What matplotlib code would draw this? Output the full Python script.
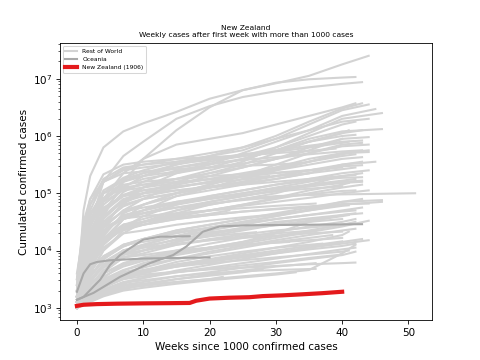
import matplotlib

matplotlib.use("Agg")
import matplotlib.pyplot as plt
import numpy as np

# knot weeks shared by all series; the last value of each series sits at its end week
knot_weeks = [0, 1, 2, 4, 7, 10, 15, 20, 25, 30, 35, 40]

# log10 of cumulated cases, rest of world
rest_log = [
    [3.1, 4.7, 5.3, 5.8, 6.08, 6.22, 6.42, 6.65, 6.8, 6.92, 7.05, 7.25, 7.40],
    [3.05, 3.5, 3.95, 4.6, 5.2, 5.6, 6.1, 6.5, 6.8, 6.93, 6.99, 7.02, 7.03],
    [3.1, 3.8, 4.45, 5.2, 5.65, 5.9, 6.3, 6.52, 6.68, 6.78, 6.85, 6.91, 6.94],
    [3.0, 3.6, 4.2, 4.9, 5.35, 5.6, 5.85, 5.95, 6.05, 6.2, 6.35, 6.5, 6.57],
    [3.1, 3.5, 3.8, 4.15, 4.37, 4.5, 4.65, 4.8, 4.9, 4.95, 4.97, 4.98, 5.0],
    [3.1, 3.6, 4.1, 4.7, 5.1, 5.3, 5.5, 5.65, 5.8, 6.0, 6.25, 6.48, 6.57],
    [3.2, 3.9, 4.45, 5.0, 5.27, 5.4, 5.55, 5.65, 5.75, 5.95, 6.2, 6.45, 6.55],
    [3.0, 3.4, 3.85, 4.4, 4.85, 5.1, 5.35, 5.5, 5.7, 5.9, 6.1, 6.35, 6.47],
    [3.1, 3.7, 4.2, 4.7, 4.97, 5.1, 5.25, 5.4, 5.55, 5.8, 6.05, 6.3, 6.40],
    [3.3, 4.0, 4.45, 4.88, 5.12, 5.25, 5.35, 5.45, 5.6, 5.75, 5.95, 6.08, 6.12],
    [3.0, 3.5, 3.9, 4.4, 4.7, 4.9, 5.15, 5.3, 5.45, 5.6, 5.75, 5.95, 5.98],
    [3.2, 3.8, 4.3, 4.85, 5.2, 5.35, 5.5, 5.6, 5.68, 5.75, 5.83, 5.9, 5.92],
    [3.1, 3.5, 4.0, 4.55, 4.87, 5.0, 5.1, 5.2, 5.3, 5.45, 5.6, 5.7, 5.72],
    [3.4, 4.1, 4.6, 5.05, 5.25, 5.35, 5.45, 5.52, 5.58, 5.63, 5.68, 5.73, 5.75],
    [3.0, 3.3, 3.65, 4.15, 4.55, 4.8, 5.0, 5.15, 5.3, 5.4, 5.5, 5.6, 5.63],
    [3.2, 3.6, 4.05, 4.5, 4.77, 4.9, 5.0, 5.1, 5.2, 5.3, 5.4, 5.47, 5.49],
    [3.1, 3.4, 3.7, 4.1, 4.4, 4.6, 4.8, 4.95, 5.05, 5.15, 5.22, 5.27, 5.28],
    [3.0, 3.3, 3.6, 4.0, 4.3, 4.5, 4.7, 4.85, 4.95, 5.05, 5.12, 5.18, 5.20],
    [3.2, 3.7, 4.0, 4.35, 4.55, 4.65, 4.75, 4.82, 4.88, 4.93, 4.98, 5.04, 5.05],
    [3.0, 3.2, 3.45, 3.75, 4.0, 4.1, 4.25, 4.4, 4.5, 4.6, 4.7, 4.8, 4.85],
    [3.1, 3.5, 3.8, 4.15, 4.37, 4.45, 4.55, 4.62, 4.68, 4.73, 4.77, 4.81, 4.82],
    [3.0, 3.3, 3.55, 3.85, 4.07, 4.2, 4.35, 4.45, 4.55, 4.63, 4.7, 4.78, 4.79],
    [3.0, 3.2, 3.4, 3.65, 3.87, 4.0, 4.15, 4.25, 4.35, 4.45, 4.52, 4.6, 4.62],
    [3.1, 3.4, 3.65, 3.9, 4.07, 4.2, 4.3, 4.4, 4.5, 4.6, 4.72, 4.85, 4.88],
    [3.0, 3.2, 3.4, 3.6, 3.75, 3.85, 3.95, 4.05, 4.15, 4.3, 4.5, 4.62, 4.65],
    [3.0, 3.1, 3.28, 3.5, 3.66, 3.75, 3.85, 3.95, 4.05, 4.15, 4.22, 4.27],
    [3.3, 4.2, 4.7, 5.2, 5.42, 5.5, 5.6, 5.7, 5.8, 5.95, 6.1, 6.25, 6.3],
    [3.2, 3.9, 4.4, 4.9, 5.2, 5.3, 5.45, 5.55, 5.65, 5.8, 6.0, 6.2, 6.25],
    [3.1, 3.6, 4.1, 4.65, 5.02, 5.2, 5.4, 5.5, 5.6, 5.75, 5.9, 6.05, 6.1],
    [3.0, 3.5, 3.9, 4.45, 4.82, 5.0, 5.2, 5.35, 5.5, 5.7, 5.9, 6.0, 6.02],
    [3.4, 4.3, 4.8, 5.25, 5.45, 5.5, 5.55, 5.6, 5.65, 5.72, 5.8, 5.88, 5.9],
    [3.2, 3.8, 4.3, 4.8, 5.07, 5.15, 5.25, 5.35, 5.45, 5.6, 5.8, 5.95],
    [3.0, 3.4, 3.75, 4.25, 4.65, 4.8, 5.0, 5.15, 5.3, 5.5, 5.7, 5.85, 5.88],
    [3.1, 3.7, 4.2, 4.68, 4.95, 5.05, 5.15, 5.25, 5.35, 5.45, 5.55, 5.65, 5.68],
    [3.5, 4.4, 4.9, 5.33, 5.5, 5.55, 5.6, 5.63, 5.66, 5.7, 5.74, 5.78],
    [3.3, 4.0, 4.5, 5.0, 5.22, 5.3, 5.38, 5.45, 5.52, 5.6, 5.7, 5.82, 5.85],
    [3.0, 3.3, 3.65, 4.15, 4.55, 4.7, 4.95, 5.1, 5.25, 5.4, 5.55, 5.7, 5.75],
    [3.2, 3.7, 4.1, 4.6, 4.9, 5.0, 5.1, 5.2, 5.3, 5.42, 5.55, 5.68, 5.72],
    [3.1, 3.6, 4.0, 4.5, 4.8, 4.9, 5.0, 5.1, 5.2, 5.3, 5.4, 5.5, 5.55],
    [3.3, 4.0, 4.45, 4.85, 5.05, 5.1, 5.18, 5.25, 5.3, 5.35, 5.4, 5.45],
    [3.0, 3.5, 3.9, 4.4, 4.7, 4.8, 4.95, 5.05, 5.15, 5.25, 5.35, 5.42, 5.45],
    [3.2, 3.8, 4.25, 4.7, 4.97, 5.05, 5.12, 5.18, 5.24, 5.3, 5.35],
    [3.1, 3.5, 3.85, 4.3, 4.6, 4.7, 4.85, 4.95, 5.05, 5.15, 5.25, 5.35, 5.4],
    [3.0, 3.4, 3.75, 4.2, 4.55, 4.65, 4.8, 4.9, 5.0, 5.1, 5.2, 5.3],
    [3.4, 4.2, 4.65, 5.0, 5.15, 5.2, 5.25, 5.3, 5.33, 5.36, 5.4, 5.43],
    [3.1, 3.4, 3.7, 4.1, 4.45, 4.55, 4.7, 4.8, 4.9, 5.0, 5.15, 5.3, 5.35],
    [3.2, 3.7, 4.05, 4.45, 4.68, 4.75, 4.85, 4.92, 5.0, 5.08, 5.15, 5.22, 5.25],
    [3.0, 3.3, 3.6, 4.0, 4.35, 4.45, 4.6, 4.7, 4.8, 4.9, 5.0, 5.1, 5.15],
    [3.3, 4.1, 4.55, 4.92, 5.1, 5.15, 5.2, 5.24, 5.28, 5.3],
    [3.1, 3.5, 3.8, 4.18, 4.45, 4.5, 4.6, 4.7, 4.8, 4.92, 5.05, 5.15, 5.18],
    [3.0, 3.4, 3.8, 4.3, 4.62, 4.7, 4.82, 4.9, 4.97, 5.03, 5.08, 5.12],
    [3.2, 3.9, 4.35, 4.75, 4.95, 5.0, 5.05, 5.1, 5.15, 5.2, 5.25, 5.3, 5.32],
    [3.5, 4.5, 4.9, 5.2, 5.35, 5.38, 5.42, 5.45, 5.48, 5.5, 5.53],
    [3.1, 3.6, 3.95, 4.35, 4.6, 4.65, 4.75, 4.85, 4.95, 5.05, 5.12, 5.2, 5.22],
    [3.0, 3.3, 3.55, 3.85, 4.1, 4.2, 4.35, 4.45, 4.55, 4.65, 4.75, 4.85, 4.9],
    [3.1, 3.5, 3.8, 4.15, 4.4, 4.45, 4.55, 4.62, 4.68, 4.72, 4.76, 4.8],
    [3.0, 3.2, 3.45, 3.75, 4.0, 4.1, 4.25, 4.35, 4.45, 4.55, 4.62, 4.68, 4.7],
    [3.2, 3.7, 4.05, 4.4, 4.56, 4.6, 4.65, 4.7, 4.74, 4.78, 4.82],
    [3.0, 3.2, 3.4, 3.65, 3.92, 4.0, 4.15, 4.28, 4.38, 4.48, 4.56, 4.62, 4.65],
    [3.1, 3.4, 3.7, 4.05, 4.3, 4.35, 4.45, 4.52, 4.58, 4.63, 4.67],
    [3.0, 3.1, 3.28, 3.52, 3.77, 3.85, 4.0, 4.12, 4.22, 4.32, 4.42, 4.5, 4.55],
    [3.1, 3.3, 3.55, 3.85, 4.1, 4.15, 4.25, 4.32, 4.38, 4.44, 4.5, 4.55],
    [3.0, 3.2, 3.4, 3.62, 3.88, 3.95, 4.1, 4.2, 4.28, 4.35, 4.4, 4.45, 4.47],
    [3.2, 3.6, 3.9, 4.22, 4.45, 4.5, 4.58, 4.64, 4.7],
    [3.0, 3.1, 3.22, 3.4, 3.62, 3.7, 3.85, 3.98, 4.08, 4.18, 4.27, 4.35, 4.38],
    [3.1, 3.3, 3.48, 3.72, 3.95, 4.0, 4.1, 4.18, 4.25, 4.3, 4.35],
    [3.0, 3.2, 3.45, 3.75, 4.0, 4.05, 4.12, 4.18, 4.22, 4.26, 4.3, 4.33],
    [3.0, 3.1, 3.15, 3.25, 3.35, 3.4, 3.45, 3.5, 3.55, 3.6, 3.66, 3.95, 4.10],
    [3.0, 3.2, 3.3, 3.45, 3.55, 3.58, 3.63, 3.67, 3.7, 3.73, 3.76, 3.78, 3.79],
    [3.0, 3.1, 3.18, 3.31, 3.44, 3.48, 3.55, 3.6, 3.64, 3.66, 3.68],
    [3.0, 3.05, 3.1, 3.2, 3.3, 3.35, 3.42, 3.48, 3.53, 3.58, 3.62],
    [3.1, 3.2, 3.3, 3.48, 3.62, 3.65, 3.72, 3.78, 3.83, 3.88, 3.93, 3.98, 4.0],
    [3.0, 3.1, 3.2, 3.38, 3.5, 3.55, 3.62, 3.68, 3.74, 3.8, 3.87, 3.93],
    [3.0, 3.05, 3.12, 3.26, 3.38, 3.42, 3.5, 3.56, 3.62, 3.67],
    [3.0, 3.1, 3.15, 3.25, 3.35, 3.38, 3.45, 3.5, 3.54],
    [3.1, 3.3, 3.48, 3.7, 3.88, 3.92, 4.0, 4.05, 4.1, 4.14, 4.18, 4.22],
    [3.0, 3.15, 3.27, 3.42, 3.58, 3.62, 3.72, 3.8, 3.88, 3.95, 4.02, 4.08, 4.12],
    [3.05, 3.15, 3.25, 3.4, 3.55, 3.65, 3.8, 3.9, 3.98, 4.05, 4.12],
    [3.0, 3.08, 3.15, 3.28, 3.42, 3.52, 3.65, 3.75, 3.85, 3.95, 4.05, 4.15, 4.2],
    [3.1, 3.25, 3.4, 3.6, 3.78, 3.88, 3.98, 4.05, 4.1, 4.15],
    [3.0, 3.1, 3.2, 3.35, 3.5, 3.6, 3.72, 3.82, 3.9, 3.97, 4.05, 4.12, 4.18],
    [3.05, 3.2, 3.35, 3.55, 3.72, 3.82, 3.95, 4.05, 4.15, 4.25, 4.35, 4.45, 4.5],
    [3.0, 3.05, 3.12, 3.22, 3.32, 3.4, 3.5, 3.58, 3.65, 3.72, 3.78],
    [3.2, 3.45, 3.65, 3.9, 4.1, 4.2, 4.32, 4.4, 4.48, 4.55, 4.62, 4.7, 4.75],
    [3.1, 3.3, 3.5, 3.75, 3.95, 4.05, 4.2, 4.3, 4.4, 4.5, 4.58],
    [3.0, 3.1, 3.22, 3.38, 3.52, 3.62, 3.75, 3.85, 3.95, 4.05, 4.15, 4.27, 4.33],
    [3.05, 3.12, 3.2, 3.32, 3.45, 3.52, 3.62, 3.7, 3.78, 3.86, 3.94, 4.02, 4.05],
    [3.15, 3.35, 3.55, 3.8, 4.0, 4.08, 4.18, 4.25, 4.32],
    [3.0, 3.12, 3.25, 3.45, 3.65, 3.78, 3.92, 4.02, 4.12, 4.22, 4.32, 4.42, 4.52],
    [3.1, 3.2, 3.3, 3.45, 3.58, 3.66, 3.76, 3.84, 3.92, 4.0, 4.08, 4.16],
    [3.2, 3.5, 3.8, 4.15, 4.4, 4.5, 4.62, 4.7, 4.78, 4.85, 4.92, 5.0, 5.05],
    [3.3, 3.8, 4.2, 4.6, 4.85, 4.95, 5.05, 5.12, 5.18, 5.25, 5.35, 5.5, 5.55],
    [3.0, 3.1, 3.2, 3.3, 3.4, 3.45, 3.55, 3.62, 3.7, 3.78, 3.85, 3.92, 3.98],
    [3.6, 4.3, 4.8, 5.2, 5.4, 5.45, 5.52, 5.58, 5.65, 5.75, 5.9, 6.05, 6.1],
]
rest_end = [
    44, 42, 43, 42, 51, 43, 44, 45, 46, 46, 44, 43, 44, 43, 43, 43, 43, 43, 42, 46,
    44, 41, 41, 46, 42, 38.5, 44, 42, 41, 42, 41, 40, 43, 42, 39, 44, 44, 42, 43, 40,
    42, 35, 44, 40, 38, 43, 42, 43, 29, 41, 40, 42, 34, 43, 43, 40, 42, 36, 43, 33,
    42, 40, 42, 23, 42, 36, 40, 42, 42, 36, 33, 41, 40, 28, 22, 40, 42,
    37, 43, 32, 44, 42, 36, 43, 38, 41, 42, 27, 44, 40, 44, 45, 42, 43,
]

# Oceania (weeks, log10 cases)
oceania_weeks = [
    [0, 1, 2, 3, 5, 10, 20],
    [0, 1, 3.5, 5, 6.5, 8, 10, 12.5, 17],
    [0, 2.5, 6.5, 11, 14.5, 16.5, 19, 21.5, 25.5, 43],
]
oceania_log = [
    [3.28, 3.6, 3.76, 3.8, 3.83, 3.86, 3.88],
    [3.14, 3.19, 3.49, 3.75, 3.92, 4.04, 4.19, 4.24, 4.25],
    [3.14, 3.26, 3.54, 3.78, 3.92, 4.07, 4.33, 4.42, 4.44, 4.46],
]

# New Zealand
nz_weeks = [0, 1, 3, 6, 10, 14, 17, 18, 20, 23, 26, 28, 31, 34, 37, 40]
nz_cases = [1080, 1130, 1160, 1180, 1195, 1205, 1215, 1330, 1450, 1500, 1530, 1600, 1650, 1720, 1800, 1906]

fig, ax = plt.subplots(figsize=(6.4, 4.8), dpi=75)

for i, (vals, end) in enumerate(zip(rest_log, rest_end)):
    weeks = knot_weeks[: len(vals) - 1] + [end]
    ax.plot(weeks, 10 ** np.array(vals), color="lightgray", lw=2,
            label="Rest of World" if i == 0 else None)

for i, (weeks, vals) in enumerate(zip(oceania_weeks, oceania_log)):
    ax.plot(weeks, 10 ** np.array(vals), color="darkgray", lw=2,
            label="Oceania" if i == 0 else None)

ax.plot(nz_weeks, nz_cases, color="#e41a1c", lw=4, label="New Zealand (1906)")

ax.set_yscale("log")
ax.set_xlabel("Weeks since 1000 confirmed cases")
ax.set_ylabel("Cumulated confirmed cases")
ax.set_title("New Zealand\nWeekly cases after first week with more than 1000 cases", fontsize=7.2)
ax.legend(loc="upper left", fontsize="xx-small")

fig.savefig("out.png", dpi=75)
